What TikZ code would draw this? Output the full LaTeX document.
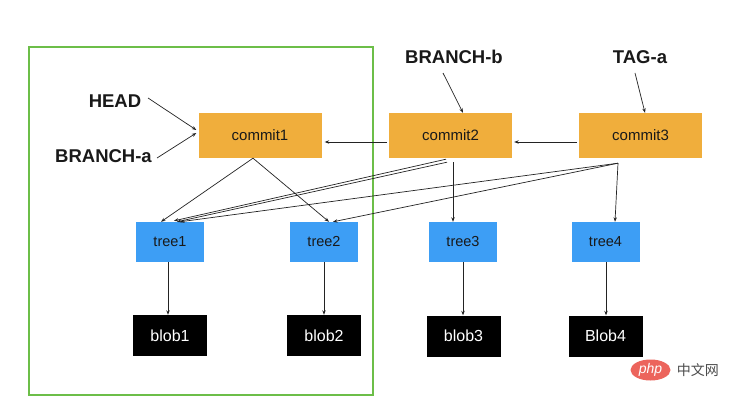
\documentclass[tikz,border=0pt]{standalone}
\usepackage{fontspec}
\setmainfont{Liberation Sans}
\newfontfamily\cjkfont{Noto Sans CJK SC}
\usetikzlibrary{arrows.meta,calc,shapes.geometric}
\definecolor{commitc}{RGB}{240,174,60}
\definecolor{treec}{RGB}{61,158,245}
\definecolor{framec}{RGB}{108,190,72}
\definecolor{linec}{RGB}{35,35,35}
\definecolor{phpc}{RGB}{236,100,92}
\definecolor{txtc}{RGB}{25,25,25}
\tikzset{
  commitbox/.style={fill=commitc, minimum width=123pt, minimum height=45pt, inner sep=0pt,
    text=txtc, font=\fontsize{15}{17}\selectfont},
  treebox/.style={fill=treec, minimum width=68pt, minimum height=40pt, inner sep=0pt,
    text=txtc, font=\fontsize{14.5}{16}\selectfont},
  blobbox/.style={fill=black, minimum width=74pt, minimum height=41pt, inner sep=0pt,
    text=white, font=\fontsize{16}{18}\selectfont},
  reflabel/.style={inner sep=0pt, text=txtc, font=\fontsize{18.5}{20}\selectfont\bfseries},
  arr/.style={draw=linec, line width=0.7pt, -{Stealth[length=4.5pt,width=3.4pt]}},
}
\begin{document}
\begin{tikzpicture}[x=1pt,y=-1pt]
\useasboundingbox (0,0) rectangle (730,403);
\fill[white] (0,0) rectangle (730,403);
% green frame
\draw[framec, line width=1.4pt] (29,47) rectangle (373,395);
% nodes
\node[commitbox] (commit1) at (260,135.5) {commit1};
\node[commitbox] (commit2) at (450.5,135.5) {commit2};
\node[commitbox] (commit3) at (640.5,135.5) {commit3};
\node[treebox] (tree1) at (170,242) {tree1};
\node[treebox] (tree2) at (324,242) {tree2};
\node[treebox] (tree3) at (463,242) {tree3};
\node[treebox] (tree4) at (605.5,242) {tree4};
\node[blobbox] (blob1) at (170,335.5) {blob1};
\node[blobbox] (blob2) at (324,335.5) {blob2};
\node[blobbox] (blob3) at (463.5,336) {blob3};
\node[blobbox] (blob4) at (605.5,336) {Blob4};
\node[reflabel] (HEAD) at (115,101) {HEAD};
\node[reflabel] (BRANCHa) at (103.5,156) {BRANCH-a};
\node[reflabel] (BRANCHb) at (454,57) {BRANCH-b};
\node[reflabel] (TAGa) at (640,57.5) {TAG-a};
% watermark
\node[ellipse, fill=phpc, minimum width=40pt, minimum height=21pt, inner sep=0pt,
  text=white, font=\fontsize{14}{15}\selectfont\itshape] (php) at (650.5,370) {php};
\node[inner sep=0pt, text=black!70, font=\cjkfont\fontsize{14}{15}\selectfont, anchor=west] (cn) at ($(php.east)+(6,0)$) {中文网};
% reference arrows
\draw[arr] ($(HEAD)+(33,-3)$) -- ($(commit1.west)+(-2,-5.5)$);
\draw[arr] ($(BRANCHa)+(53.5,2)$) -- ($(commit1.west)+(-2,-2.5)$);
\draw[arr] ($(BRANCHb)+(-11,16)$) -- ($(commit2.north)+(12.5,0)$);
\draw[arr] ($(TAGa)+(-5,15.5)$) -- ($(commit3.north)+(4.5,0)$);
% parent arrows
\draw[arr] ($(commit2.west)+(-2,6.5)$) -- ($(commit1.east)+(3,6.5)$);
\draw[arr] ($(commit3.west)+(-2,6.5)$) -- ($(commit2.east)+(2,6.5)$);
% commit -> tree
\draw[arr] ($(commit1.south)+(-7,0)$) -- ($(tree1.north)+(-9,0)$);
\draw[arr] ($(commit1.south)+(-7,0)$) -- ($(tree2.north)+(5,0)$);
\draw[arr] ($(commit2.south)+(-4.5,1)$) -- ($(tree1.north)+(4,-1)$);
\draw[arr] ($(commit2.south)+(-3.5,4)$) -- ($(tree1.north)+(7,0)$);
\draw[arr] ($(commit2.south)+(2.5,4)$) -- ($(tree3.north)+(-10,0)$);
\draw[arr] ($(commit3.south)+(-22.5,5)$) -- ($(tree1.north)+(10,0)$);
\draw[arr] ($(commit3.south)+(-22.5,5)$) -- ($(tree2.north)+(9,0)$);
\draw[arr] ($(commit3.south)+(-22.5,5)$) -- ($(tree4.north)+(9.5,0)$);
% tree -> blob
\draw[arr] ($(tree1.south)+(-2,0)$) -- ($(blob1.north)+(-2,0)$);
\draw[arr] (tree2.south) -- (blob2.north);
\draw[arr] (tree3.south) -- ($(blob3.north)+(-0.5,0)$);
\draw[arr] ($(tree4.south)+(0.5,0)$) -- ($(blob4.north)+(0.5,0)$);
\end{tikzpicture}
\end{document}
